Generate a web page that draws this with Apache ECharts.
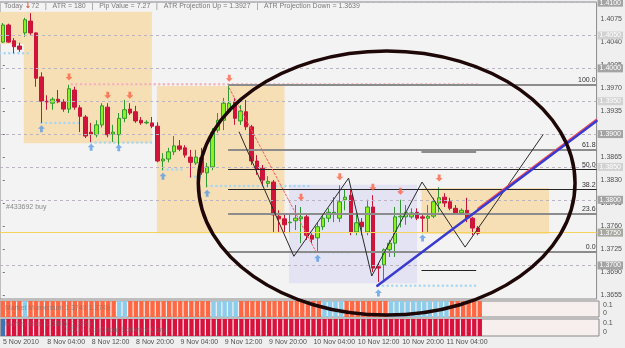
<!DOCTYPE html>
<html>
<head>
<meta charset="utf-8">
<script src="https://cdn.jsdelivr.net/npm/echarts@6/dist/echarts.min.js"></script>
<style>
  html, body { margin: 0; padding: 0; background: #efefef; }
  #chart { width: 625px; height: 348px; }
</style>
</head>
<body>
<div id="chart"></div>
<script>
// hourly EURUSD-style bars, 5 Nov 20:00 .. 11 Nov 10:00, plus empty slots to the right
var SLOTS = 108;
var categories = [];
for (var h = 20; h < 24; h++) categories.push('5 Nov ' + h + ':00');
for (var k = 0; categories.length < SLOTS; k++) {
  var hh = k % 24;
  categories.push((8 + Math.floor(k / 24)) + ' Nov ' + (hh < 10 ? '0' : '') + hh + ':00');
}

var xTickLabels = ['5 Nov 2010', '8 Nov 04:00', '8 Nov 12:00', '8 Nov 20:00', '9 Nov 04:00', '9 Nov 12:00',
  '9 Nov 20:00', '10 Nov 04:00', '10 Nov 12:00', '10 Nov 20:00', '11 Nov 04:00'];
var yTicks = [1.3655, 1.3690, 1.3725, 1.3760, 1.3795, 1.3830, 1.3865, 1.3900, 1.3935, 1.3970, 1.4005, 1.4040, 1.4075];

// [open, close, low, high]
var candles = [
  [1.4040, 1.4066, 1.4039, 1.4069], [1.4066, 1.4040, 1.4039, 1.4068], [1.4042, 1.4033, 1.4023, 1.4046], [1.4034, 1.4029, 1.4025, 1.4039],
  [1.4054, 1.4074, 1.4048, 1.4077], [1.4072, 1.4054, 1.4051, 1.4084], [1.4054, 1.3985, 1.3972, 1.4055], [1.3987, 1.3950, 1.3917, 1.3994],
  [1.3950, 1.3949, 1.3937, 1.3959], [1.3947, 1.3953, 1.3937, 1.3956], [1.3953, 1.3949, 1.3947, 1.3967], [1.3949, 1.3938, 1.3934, 1.3953],
  [1.3938, 1.3969, 1.3932, 1.3975], [1.3967, 1.3941, 1.3937, 1.3972], [1.3940, 1.3927, 1.3903, 1.3944], [1.3926, 1.3897, 1.3894, 1.3929],
  [1.3903, 1.3900, 1.3888, 1.3917], [1.3899, 1.3914, 1.3895, 1.3921], [1.3914, 1.3943, 1.3910, 1.3947], [1.3941, 1.3899, 1.3895, 1.3947],
  [1.3900, 1.3903, 1.3888, 1.3914], [1.3899, 1.3924, 1.3883, 1.3932], [1.3924, 1.3937, 1.3918, 1.3952], [1.3938, 1.3932, 1.3929, 1.3947],
  [1.3934, 1.3920, 1.3917, 1.3943], [1.3921, 1.3917, 1.3914, 1.3926], [1.3917, 1.3918, 1.3915, 1.3921], [1.3917, 1.3912, 1.3909, 1.3926],
  [1.3912, 1.3859, 1.3857, 1.3918], [1.3859, 1.3862, 1.3845, 1.3871], [1.3862, 1.3873, 1.3857, 1.3879], [1.3873, 1.3882, 1.3868, 1.3897],
  [1.3882, 1.3877, 1.3874, 1.3891], [1.3879, 1.3868, 1.3864, 1.3883], [1.3865, 1.3857, 1.3834, 1.3876], [1.3856, 1.3865, 1.3853, 1.3876],
  [1.3864, 1.3842, 1.3838, 1.3879], [1.3841, 1.3850, 1.3819, 1.3856], [1.3850, 1.3902, 1.3845, 1.3909], [1.3906, 1.3921, 1.3902, 1.3932],
  [1.3921, 1.3947, 1.3906, 1.3955], [1.3934, 1.3947, 1.3931, 1.3973], [1.3949, 1.3924, 1.3914, 1.3955], [1.3920, 1.3935, 1.3914, 1.3944],
  [1.3934, 1.3911, 1.3906, 1.3952], [1.3911, 1.3859, 1.3853, 1.3914], [1.3859, 1.3847, 1.3838, 1.3868], [1.3848, 1.3830, 1.3822, 1.3853],
  [1.3825, 1.3828, 1.3819, 1.3836], [1.3827, 1.3777, 1.3751, 1.3830], [1.3775, 1.3771, 1.3751, 1.3784], [1.3771, 1.3762, 1.3751, 1.3777],
  [1.3765, 1.3766, 1.3749, 1.3777], [1.3768, 1.3772, 1.3754, 1.3792], [1.3771, 1.3774, 1.3734, 1.3789], [1.3774, 1.3746, 1.3739, 1.3777],
  [1.3746, 1.3740, 1.3734, 1.3749], [1.3742, 1.3759, 1.3721, 1.3765], [1.3759, 1.3772, 1.3754, 1.3777], [1.3772, 1.3781, 1.3766, 1.3787],
  [1.3780, 1.3781, 1.3766, 1.3804], [1.3772, 1.3797, 1.3766, 1.3822], [1.3800, 1.3804, 1.3784, 1.3815], [1.3807, 1.3751, 1.3746, 1.3815],
  [1.3751, 1.3765, 1.3746, 1.3777], [1.3766, 1.3759, 1.3746, 1.3772], [1.3751, 1.3789, 1.3746, 1.3800], [1.3789, 1.3696, 1.3690, 1.3807],
  [1.3698, 1.3696, 1.3675, 1.3704], [1.3701, 1.3724, 1.3678, 1.3726], [1.3724, 1.3734, 1.3713, 1.3739], [1.3734, 1.3774, 1.3713, 1.3789],
  [1.3774, 1.3775, 1.3758, 1.3800], [1.3774, 1.3781, 1.3762, 1.3792], [1.3774, 1.3780, 1.3771, 1.3787], [1.3781, 1.3772, 1.3769, 1.3787],
  [1.3774, 1.3772, 1.3751, 1.3777], [1.3772, 1.3775, 1.3751, 1.3792], [1.3775, 1.3797, 1.3772, 1.3803], [1.3795, 1.3803, 1.3781, 1.3819],
  [1.3804, 1.3795, 1.3789, 1.3810], [1.3797, 1.3787, 1.3784, 1.3803], [1.3787, 1.3780, 1.3777, 1.3792], [1.3780, 1.3784, 1.3777, 1.3787],
  [1.3784, 1.3772, 1.3766, 1.3803], [1.3772, 1.3757, 1.3746, 1.3774], [1.3757, 1.3749, 1.3746, 1.3760]
];

// 1 = blue (up) state, 0 = red state
var momentumUp = [0,0,0,0,1,0,0,0,0,0, 0,0,0,0,0,0,0,0,0,0, 0,1,1,0,0,0,0,0,0,0, 0,0,0,0,0,0,0,0,1,1,
  1,1,1,0,0,0,0,0,0,0, 0,0,0,0,0,0,0,0,1,1, 1,1,0,0,0,0,0,0,0,0, 1,1,1,1,1,1,1,1,1,1, 1,0,0,0,0,0,0];
var biasUp = [1,0,0,0,0,0,0,0,0,0, 0,0,0,0,0,0,0,0,0,0, 0,0,0,0,0,0,0,0,0,0, 0,0,0,0,0,0,0,0,0,0,
  0,0,0,0,0,0,0,0,0,0, 0,0,0,0,0,0,0,0,0,0, 0,0,0,0,0,0,0,0,0,0, 0,0,0,0,0,0,0,0,0,0, 0,0,0,0,0,0,0];

// horizontal levels
var roundLevels = [1.4100, 1.4050, 1.4000, 1.3950, 1.3900, 1.3850, 1.3800, 1.3700];
var orderLevel = 1.3750;
var fibNames = ['100.0', '61.8', '50.0', '38.2', '23.6', '0.0'];
var fibPrices = [1.3975, 1.3876, 1.3846, 1.3816, 1.3779, 1.3721];
var fibStart = 40.8;

// boxes: [fromBar, toBar, topPrice, bottomPrice]
var sessionBoxes = [[-0.5, 3.8, 1.4086, 1.4037], [3.8, 27.0, 1.4086, 1.3886], [27.9, 51.0, 1.3973, 1.3749], [75.8, 98.9, 1.3818, 1.3748]];
var rangeBoxes = [[51.8, 75.0, 1.3823, 1.3673]];

// dotted support / resistance runs: [fromBar, toBar, price]
var supportDots = [[-0.5, 4.5, 1.4023], [7, 14, 1.3917], [16, 27, 1.3887], [29, 33, 1.3846], [34, 36, 1.3835],
  [37, 56, 1.3821], [54, 63, 1.3720], [68, 86, 1.3669]];
var resistDots = [[12.5, 86, 1.3976]];
var shortLines = [[75.8, 85.7, 1.3873], [75.8, 85.7, 1.3692]];

// arrows [bar, price]
var sellArrows = [[12, 1.3987], [19, 1.3959], [23, 1.3959], [41, 1.3985], [54, 1.3804], [61, 1.3835], [67, 1.3819], [72, 1.3813], [79, 1.3833]];
var buyArrows = [[7, 1.3908], [16, 1.3880], [21, 1.3879], [29, 1.3836], [37, 1.3810], [57, 1.3711], [68, 1.3658], [76, 1.3742]];

// drawn lines [bar, price]
var zigzag = [[42.8, 1.3903], [52.7, 1.3714], [62.6, 1.3833], [66.8, 1.3684], [75.9, 1.3827], [83.7, 1.3728], [97.8, 1.3899]];
var redDash = [[41.0, 1.3970], [56.7, 1.3721]];
var blueTrend = [[67.8, 1.3669], [107.5, 1.3920]];
var redTrend = [[86, 1.3787], [107.5, 1.3923]];
var ring = { bar: 69.5, price: 1.38255, bars: 34.1, pips: 0.0201 };

var FONT = 'Liberation Sans';
var chart = echarts.init(document.getElementById('chart'));

function segLine(points, color, width, type, z) {
  return {
    type: 'line', xAxisIndex: 1, yAxisIndex: 0, data: points, symbol: 'none', silent: true, z: z,
    lineStyle: { color: color, width: width, type: type, cap: 'round' }, animation: false
  };
}

var levelLines = [];
roundLevels.forEach(function (p) {
  var major = Math.round(p * 10000) % 100 === 0;
  levelLines.push([
    { coord: [-0.5, p], lineStyle: { color: '#bbb2c2', type: [3, 3], width: 1 },
      label: { show: true, position: 'end', distance: 1, formatter: p.toFixed(4), color: '#ffffff', fontSize: 7,
        fontFamily: FONT, backgroundColor: major ? '#a4a4a4' : '#d2d2d2', padding: [1, 2, 0, 2] } },
    { coord: [SLOTS - 0.5, p] }
  ]);
});
levelLines.push([
  { coord: [-0.5, orderLevel], lineStyle: { color: '#f3d35a', type: 'solid', width: 1 },
    label: { show: true, position: 'end', distance: 1, formatter: orderLevel.toFixed(4), color: '#ffffff', fontSize: 7,
      fontFamily: FONT, backgroundColor: '#a8a8a0', padding: [1, 2, 0, 2] } },
  { coord: [SLOTS - 0.5, orderLevel] }
]);

var fibLines = [];
fibPrices.forEach(function (p, i) {
  var dark = fibNames[i] === '50.0' || fibNames[i] === '38.2';
  fibLines.push([
    { coord: [fibStart, p], lineStyle: { color: dark ? '#262626' : '#8c8c8c', width: dark ? 1 : 2, type: 'solid' },
      label: { show: true, position: 'insideEndTop', distance: 1, formatter: fibNames[i], color: '#333333', fontSize: 7, fontFamily: FONT } },
    { coord: [SLOTS - 0.5, p] }
  ]);
});
shortLines.forEach(function (s, i) {
  fibLines.push([
    { coord: [s[0], s[2]], lineStyle: { color: i === 0 ? '#8c8c8c' : '#222222', width: i === 0 ? 2 : 1, type: 'solid' }, label: { show: false } },
    { coord: [s[1], s[2]] }
  ]);
});

var boxAreas = [];
sessionBoxes.forEach(function (b) {
  boxAreas.push([{ coord: [b[0], b[2]], itemStyle: { color: '#f6dfb5' } }, { coord: [b[1], b[3]] }]);
});
rangeBoxes.forEach(function (b) {
  boxAreas.push([{ coord: [b[0], b[2]], itemStyle: { color: '#e3e3f3' } }, { coord: [b[1], b[3]] }]);
});

var series = [
  {
    name: 'boxes', type: 'line', xAxisIndex: 1, yAxisIndex: 0, data: [[-5, 1.38]], symbol: 'none', z: 1, silent: true,
    markArea: { silent: true, data: boxAreas }
  },
  {
    name: 'levels', type: 'line', xAxisIndex: 1, yAxisIndex: 0, data: [[-5, 1.38]], symbol: 'none', z: 2, silent: true,
    markLine: { silent: true, symbol: ['none', 'none'], animation: false, data: levelLines.concat(fibLines) }
  }
];

supportDots.forEach(function (s) {
  series.push(segLine([[s[0], s[2]], [s[1], s[2]]], '#a9d7f2', 2.5, [0.1, 4.5], 3));
});
resistDots.forEach(function (s) {
  series.push(segLine([[s[0], s[2]], [s[1], s[2]]], '#f5b3bd', 2.5, [0.1, 4.5], 3));
});

series.push({
  name: 'price', type: 'candlestick', xAxisIndex: 0, yAxisIndex: 0, data: candles, barWidth: 4, z: 4,
  itemStyle: { color: '#8ff01f', color0: '#d3143a', borderColor: '#2f9a2f', borderColor0: '#c8163a', borderWidth: 1 }
});

series.push(segLine(zigzag, '#2a2a2a', 1, 'solid', 5));
series.push(segLine(redDash, '#ff5a5a', 1, [2, 2], 5));
series.push(segLine(redTrend, '#ff4848', 1.2, 'solid', 5));
series.push(segLine(blueTrend, '#3a3ad0', 2.5, 'solid', 6));

series.push({
  name: 'sell', type: 'scatter', xAxisIndex: 1, yAxisIndex: 0, data: sellArrows, z: 6, silent: true,
  symbol: 'path://M3,0 L7,0 L7,5 L10,5 L5,10 L0,5 L3,5 Z', symbolSize: [7, 7], itemStyle: { color: '#ff6242' }
});
series.push({
  name: 'buy', type: 'scatter', xAxisIndex: 1, yAxisIndex: 0, data: buyArrows, z: 6, silent: true,
  symbol: 'path://M5,0 L10,5 L7,5 L7,10 L3,10 L3,5 L0,5 Z', symbolSize: [7, 7], itemStyle: { color: '#5b9be6' }
});

series.push({
  name: 'momentum', type: 'bar', xAxisIndex: 2, yAxisIndex: 2, barCategoryGap: '22%', silent: true,
  data: momentumUp.map(function (v) { return { value: 1, itemStyle: { color: v ? '#8ccdec' : '#ff6843' } }; })
});
series.push({
  name: 'bias', type: 'bar', xAxisIndex: 3, yAxisIndex: 4, barCategoryGap: '22%', silent: true,
  data: biasUp.map(function (v) { return { value: 1, itemStyle: { color: v ? '#3f73b4' : '#d8113d' } }; })
});

function panelAxis(grid) {
  return {
    type: 'value', gridIndex: grid, position: 'right', min: -0.05, max: 0.15,
    splitLine: { show: false }, axisLine: { show: false }, axisTick: { show: false },
    axisLabel: { customValues: [0, 0.1], formatter: function (v) { return v === 0 ? '0' : '0.1'; },
      fontSize: 7, fontFamily: FONT, color: '#505050', margin: 4 }
  };
}

var option = {
  animation: false,
  backgroundColor: '#efefef',
  grid: [
    { left: 0, top: 2, width: 599, height: 297, show: true, backgroundColor: '#f3f3f3', borderColor: '#8a8a8a', borderWidth: 1 },
    { left: 0, top: 301, width: 599, height: 16, show: true, backgroundColor: '#f7eeee', borderColor: '#8a8a8a', borderWidth: 1 },
    { left: 0, top: 319, width: 599, height: 17, show: true, backgroundColor: '#f7eeee', borderColor: '#8a8a8a', borderWidth: 1 }
  ],
  xAxis: [
    { type: 'category', gridIndex: 0, data: categories, show: false },
    { type: 'value', gridIndex: 0, min: -0.5, max: SLOTS - 0.5, show: false },
    { type: 'category', gridIndex: 1, data: categories, show: false },
    {
      type: 'category', gridIndex: 2, data: categories,
      axisLine: { show: false },
      axisTick: {
        show: true, length: 3, alignWithLabel: true, lineStyle: { color: '#707070' },
        interval: function (i) { return i % 8 === 0 && i <= 80; }
      },
      axisLabel: {
        interval: function (i) { return i % 8 === 0 && i <= 80; },
        formatter: function (v, i) { return xTickLabels[i / 8]; },
        align: 'left', fontSize: 7, fontFamily: FONT, color: '#505050', margin: 3
      }
    }
  ],
  yAxis: [
    {
      type: 'value', gridIndex: 0, position: 'right', min: 1.3649, max: 1.4101,
      splitLine: { show: false },
      axisLine: { show: false },
      axisTick: { show: true, length: 2, customValues: yTicks, lineStyle: { color: '#707070' } },
      axisLabel: { customValues: yTicks, formatter: function (v) { return v.toFixed(4); },
        fontSize: 7, fontFamily: FONT, color: '#505050', margin: 4 }
    },
    panelAxis(1),
    { type: 'value', gridIndex: 1, min: 0, max: 1, show: false },
    panelAxis(2),
    { type: 'value', gridIndex: 2, min: 0, max: 1, show: false }
  ],
  graphic: [
    {
      id: 'header', type: 'text', left: 4, top: 2, z: 50, silent: true,
      style: {
        text: '{g|Today }{r|\u2193}{g|72   |   ATR = 180   |   Pip Value = 7.27   |   ATR Projection Up = 1.3927   |   ATR Projection Down = 1.3639}',
        rich: {
          g: { fontSize: 7, fontFamily: FONT, fill: '#7a7a7a' },
          r: { fontSize: 8, fontFamily: 'DejaVu Sans', fill: '#e0522e', fontWeight: 'bold' }
        }
      }
    },
    { id: 'order', type: 'text', left: 6, top: 204, z: 50, silent: true,
      style: { text: '#433692 buy', fontSize: 7, fontFamily: FONT, fill: '#8a8a8a' } },
    { id: 'mom', type: 'text', left: 5, top: 305, z: 50, silent: true,
      style: { text: 'Market Momentum 1.3749 1.3749', fontSize: 7, fontFamily: FONT, fill: 'rgba(110,110,110,0.6)' } },
    { id: 'bias1', type: 'text', left: 5, top: 321, z: 50, silent: true,
      style: { text: 'Market Bias  1.3845  1.3851', fontSize: 7, fontFamily: FONT, fill: 'rgba(110,110,110,0.6)' } },
    { id: 'bias2', type: 'text', left: 62, top: 327, z: 50, silent: true,
      style: { text: '\u00a9 2010 IndaQuote Software Corp', fontSize: 7, fontFamily: FONT, fill: 'rgba(110,110,110,0.6)' } }
  ],
  series: series
};

chart.setOption(option);

// the hand-drawn ellipse, placed through the chart's own scales
var c = chart.convertToPixel({ xAxisIndex: 1, yAxisIndex: 0 }, [ring.bar, ring.price]);
var e = chart.convertToPixel({ xAxisIndex: 1, yAxisIndex: 0 }, [ring.bar + ring.bars, ring.price + ring.pips]);
chart.setOption({
  graphic: [{
    id: 'ring', type: 'ellipse', z: 60, silent: true,
    shape: { cx: c[0], cy: c[1], rx: Math.abs(e[0] - c[0]), ry: Math.abs(c[1] - e[1]) },
    style: { fill: null, stroke: '#1e0707', lineWidth: 3.5 }
  }]
});
</script>
</body>
</html>
